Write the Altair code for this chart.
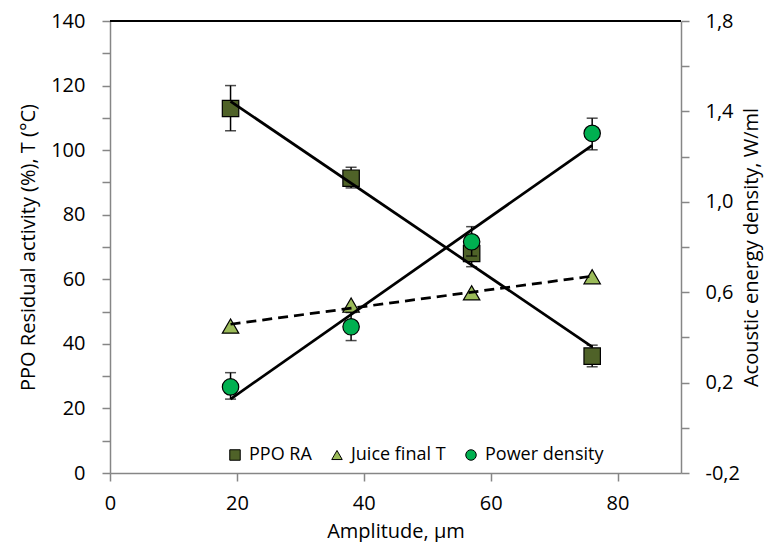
import altair as alt
import pandas as pd

# ---- data ----
amplitude = [19, 38, 57, 76]
ppo_ra = [112.9, 91.3, 68.0, 36.2]
ppo_err_low = [106.0, 88.3, 63.9, 32.9]
ppo_err_high = [120.0, 94.7, 72.5, 39.6]
juice_final_t = [45.5, 52.0, 55.8, 60.8]
power_density = [0.181, 0.447, 0.823, 1.303]
power_err_low = [0.127, 0.386, 0.760, 1.230]
power_err_high = [0.244, 0.510, 0.890, 1.370]

series_names = ["PPO RA", "Juice final T", "Power density"]
series_colors = ["#4f6228", "#9bbb59", "#00b050"]
series_outline = ["black", "black", "black"]
series_shapes = ["square", "triangle-up", "circle"]

x_ticks = [0, 20, 40, 60, 80]
left_ticks = [0, 10, 20, 30, 40, 50, 60, 70, 80, 90, 100, 110, 120, 130, 140]
right_ticks = [-0.2, 0.0, 0.2, 0.4, 0.6, 0.8, 1.0, 1.2, 1.4, 1.6, 1.8]

W, H = 571, 452
FONT = "Open Sans"

ppo_df = pd.DataFrame({"amplitude": amplitude, "value": ppo_ra, "lo": ppo_err_low,
                       "hi": ppo_err_high, "series": series_names[0]})
juice_df = pd.DataFrame({"amplitude": amplitude, "value": juice_final_t, "series": series_names[1]})
power_df = pd.DataFrame({"amplitude": amplitude, "value": power_density, "lo": power_err_low,
                         "hi": power_err_high, "series": series_names[2]})
left_df = pd.concat([ppo_df, juice_df], ignore_index=True)

x_axis = alt.Axis(values=x_ticks, title="Amplitude, μm", labelPadding=12, titlePadding=8,
                  labelFlush=False, ticks=True, tickSize=8)
x_enc = alt.X("amplitude:Q", scale=alt.Scale(domain=[0, 90], nice=False), axis=x_axis)

left_scale = alt.Scale(domain=[0, 140], nice=False, zero=False)
right_scale = alt.Scale(domain=[-0.2, 1.8], nice=False, zero=False)

legend = alt.Legend(orient="none", legendX=116, legendY=425, direction="horizontal",
                    title=None, symbolSize=110, symbolStrokeColor="black", symbolStrokeWidth=1,
                    labelFontSize=18, labelFont=FONT, labelColor="black", labelOffset=5,
                    columnPadding=16, padding=0)
fill_enc = alt.Fill("series:N", scale=alt.Scale(domain=series_names, range=series_colors), legend=legend)
shape_enc = alt.Shape("series:N", scale=alt.Scale(domain=series_names, range=series_shapes), legend=legend)
stroke_enc = alt.Stroke("series:N", scale=alt.Scale(domain=series_names, range=series_outline), legend=legend)

left_axis = alt.Axis(values=left_ticks, orient="left",
                     labelExpr="datum.value % 20 == 0 ? datum.label : ''",
                     title="PPO Residual activity (%), T (°C)", labelPadding=17, titlePadding=12)
right_axis = alt.Axis(values=right_ticks, orient="right",
                      labelExpr="abs(round(datum.value*10)) % 4 == 2 ? replace(replace(format(datum.value, '.1f'), '.', ','), '\u2212', '-') : ''",
                      title="Acoustic energy density, W/ml", titleAngle=270, labelPadding=16, titlePadding=22)


def ly(field):
    return alt.Y(field, scale=left_scale, axis=left_axis)


def ry(field):
    return alt.Y(field, scale=right_scale, axis=right_axis)


# left axis layers
ppo_rule = alt.Chart(ppo_df).mark_rule(color="black", strokeWidth=1.5).encode(
    x=x_enc, y=ly("lo:Q"), y2="hi:Q")
ppo_cap_lo = alt.Chart(ppo_df).mark_tick(color="black", orient="horizontal", size=11, thickness=1.5).encode(
    x=x_enc, y=ly("lo:Q"))
ppo_cap_hi = alt.Chart(ppo_df).mark_tick(color="black", orient="horizontal", size=11, thickness=1.5).encode(
    x=x_enc, y=ly("hi:Q"))
left_points = alt.Chart(left_df).mark_point(filled=True, opacity=1, strokeWidth=1.2, size=270).encode(
    x=x_enc, y=ly("value:Q"), fill=fill_enc, shape=shape_enc, stroke=stroke_enc)
ppo_fit = alt.Chart(ppo_df).transform_regression("amplitude", "value").mark_line(
    color="black", strokeWidth=2.75).encode(x=x_enc, y=ly("value:Q"))
juice_fit = alt.Chart(juice_df).transform_regression("amplitude", "value").mark_line(
    color="black", strokeWidth=2.75, strokeDash=[10, 6]).encode(x=x_enc, y=ly("value:Q"))
top_border = alt.Chart(ppo_df).mark_rule(color="black", strokeWidth=1.5).encode(
    x=alt.value(0), x2=alt.value(W), y=alt.value(0))

left_layer = alt.layer(ppo_rule, ppo_cap_lo, ppo_cap_hi, left_points, ppo_fit, juice_fit, top_border)

# right axis layers
pw_rule = alt.Chart(power_df).mark_rule(color="black", strokeWidth=1.5).encode(
    x=x_enc, y=ry("lo:Q"), y2="hi:Q")
pw_cap_lo = alt.Chart(power_df).mark_tick(color="black", orient="horizontal", size=11, thickness=1.5).encode(
    x=x_enc, y=ry("lo:Q"))
pw_cap_hi = alt.Chart(power_df).mark_tick(color="black", orient="horizontal", size=11, thickness=1.5).encode(
    x=x_enc, y=ry("hi:Q"))
pw_points = alt.Chart(power_df).mark_point(filled=True, opacity=1, strokeWidth=1.2, size=270).encode(
    x=x_enc, y=ry("value:Q"), fill=fill_enc, shape=shape_enc, stroke=stroke_enc)
pw_fit = alt.Chart(power_df).transform_regression("amplitude", "value").mark_line(
    color="black", strokeWidth=2.75).encode(x=x_enc, y=ry("value:Q"))

right_layer = alt.layer(pw_rule, pw_cap_lo, pw_cap_hi, pw_points, pw_fit)

chart = alt.layer(left_layer, right_layer).resolve_scale(y="independent").properties(
    width=W, height=H,
    autosize=alt.AutoSizeParams(type="none"),
    padding={"left": 102, "top": 13, "right": 87, "bottom": 69},
).configure_view(stroke=None).configure_axis(
    labelFont=FONT, titleFont=FONT, labelFontSize=20, titleFontSize=20,
    labelColor="black", titleColor="black", titleFontWeight="normal",
    domainColor="#868686", tickColor="#868686", domainWidth=1.5, tickWidth=1.5,
    tickSize=8, grid=False, ticks=True,
)

chart.save("out.html", embed_options={"renderer": "svg", "actions": False})
